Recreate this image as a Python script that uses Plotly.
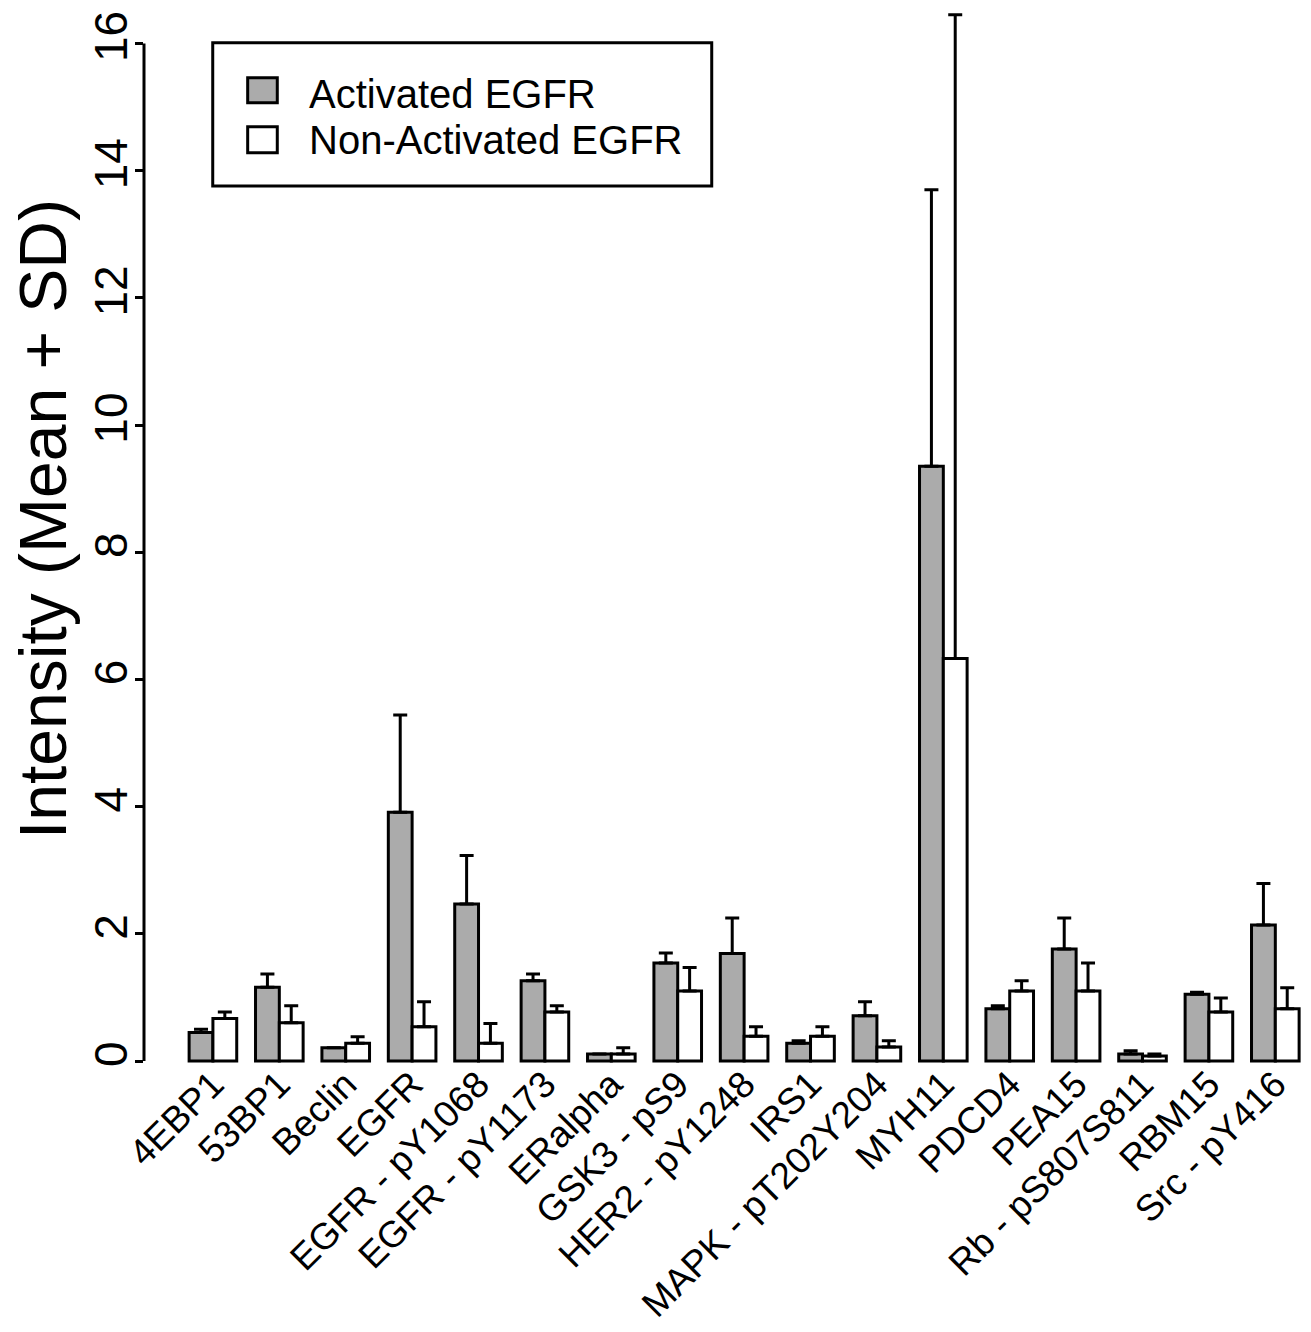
import plotly.graph_objects as go

categories = ["4EBP1", "53BP1", "Beclin", "EGFR", "EGFR - pY1068", "EGFR - pY1173",
              "ERalpha", "GSK3 - pS9", "HER2 - pY1248", "IRS1", "MAPK - pT202Y204",
              "MYH11", "PDCD4", "PEA15", "Rb - pS807S811", "RBM15", "Src - pY416"]
activated_mean = [0.45, 1.16, 0.21, 3.91, 2.47, 1.26, 0.11, 1.54, 1.69, 0.28, 0.71,
                  9.35, 0.82, 1.76, 0.11, 1.05, 2.14]
activated_sd = [0.05, 0.21, 0.0, 1.53, 0.76, 0.11, 0.0, 0.16, 0.56, 0.04, 0.22,
                4.35, 0.05, 0.49, 0.05, 0.03, 0.65]
nonact_mean = [0.67, 0.60, 0.28, 0.54, 0.28, 0.77, 0.11, 1.10, 0.39, 0.39, 0.22,
               6.33, 1.10, 1.10, 0.08, 0.77, 0.82]
nonact_sd = [0.10, 0.27, 0.10, 0.39, 0.31, 0.10, 0.10, 0.37, 0.15, 0.15, 0.10,
             10.12, 0.16, 0.44, 0.03, 0.22, 0.33]
yticks = [0, 2, 4, 6, 8, 10, 12, 14, 16]
series_names = ["Activated EGFR", "Non-Activated EGFR"]
gray = "#ababab"
FONT = "Arial, Liberation Sans, sans-serif"

fig = go.Figure()
fig.add_trace(go.Bar(
    x=categories, y=activated_mean, name=series_names[0],
    marker=dict(color=gray, line=dict(color="black", width=3)),
    error_y=dict(type="data", symmetric=False, array=activated_sd,
                 arrayminus=[0] * len(activated_sd), color="black", thickness=3, width=7),
    showlegend=False))
fig.add_trace(go.Bar(
    x=categories, y=nonact_mean, name=series_names[1],
    marker=dict(color="white", line=dict(color="black", width=3)),
    error_y=dict(type="data", symmetric=False, array=nonact_sd,
                 arrayminus=[0] * len(nonact_sd), color="black", thickness=3, width=7),
    showlegend=False))

# y axis line (only from 0 to 16, as in the original)
fig.add_shape(type="line", xref="paper", yref="y", x0=0, x1=0, y0=yticks[0], y1=yticks[-1],
              line=dict(color="black", width=3))

# manual legend box
fig.add_shape(type="rect", xref="paper", yref="paper", x0=0.0592, x1=0.4890, y0=0.8330, y1=0.9690,
              line=dict(color="black", width=3), fillcolor="white")
fig.add_shape(type="rect", xref="paper", yref="paper", x0=0.0893, x1=0.1148, y0=0.9121, y1=0.9358,
              line=dict(color="black", width=3), fillcolor=gray)
fig.add_shape(type="rect", xref="paper", yref="paper", x0=0.0893, x1=0.1148, y0=0.8646, y1=0.8893,
              line=dict(color="black", width=3), fillcolor="white")
fig.add_annotation(xref="paper", yref="paper", x=0.1404, y=0.9200, text=series_names[0],
                   showarrow=False, xanchor="left", yanchor="middle",
                   font=dict(family=FONT, size=40, color="black"))
fig.add_annotation(xref="paper", yref="paper", x=0.1404, y=0.8770, text=series_names[1],
                   showarrow=False, xanchor="left", yanchor="middle",
                   font=dict(family=FONT, size=40, color="black"))

# y title
fig.add_annotation(xref="paper", yref="paper", x=-0.0870, y=0.517, text="Intensity (Mean + SD)",
                   textangle=-90, showarrow=False, xanchor="center", yanchor="middle",
                   font=dict(family=FONT, size=66, color="black"))

fig.update_layout(
    width=1311, height=1332,
    margin=dict(l=144, r=6, t=10, b=268),
    paper_bgcolor="white", plot_bgcolor="white",
    barmode="group", bargap=0.283, bargroupgap=0,
    font=dict(family=FONT, color="black"),
    xaxis=dict(range=[-1.038, 16.447], tickangle=-45, showgrid=False, showline=False,
               zeroline=False, ticks="", automargin=False,
               ticklabelshift=0, ticklabelstandoff=-10,
               tickfont=dict(family=FONT, size=37, color="black")),
    yaxis=dict(range=[-0.047, 16.525], tickvals=yticks, ticktext=[str(v) for v in yticks],
               tickangle=-90, showgrid=False, showline=False, zeroline=False, automargin=False,
               ticks="outside", ticklen=8, tickwidth=3, tickcolor="black",
               ticklabelstandoff=-10,
               tickfont=dict(family=FONT, size=46, color="black")),
)

fig.write_html("out.html", config={"displayModeBar": False})

# remove the default 8px body margin so the figure sits at the page's top-left corner
with open("out.html", "r", encoding="utf-8") as f:
    html = f.read()
html = html.replace("<head>", "<head><style>html,body{margin:0;padding:0;}</style>", 1)
with open("out.html", "w", encoding="utf-8") as f:
    f.write(html)
